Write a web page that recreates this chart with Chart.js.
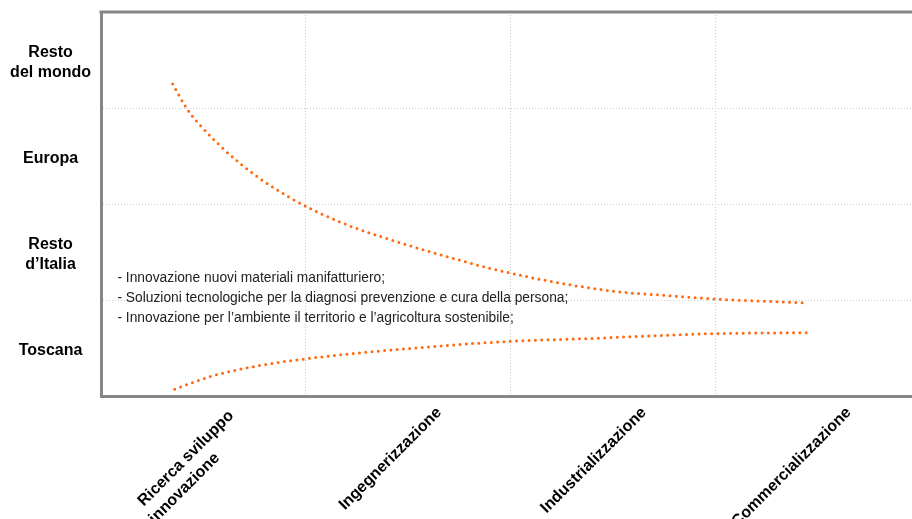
<!DOCTYPE html>
<html>
<head>
<meta charset="utf-8">
<script src="https://cdn.jsdelivr.net/npm/chart.js@4.4.1/dist/chart.umd.min.js"></script>
<style>
  html, body { margin: 0; padding: 0; background: #fff; }
</style>
</head>
<body>
<canvas id="chart" width="912" height="519"></canvas>
<script>
// x: phases of the value chain, y: market reached (bottom to top)
// trailing spaces keep the two lines of the first label left-aligned like the original
const phases = [["Ricerca sviluppo ", "innovazione          "], "Ingegnerizzazione", "Industrializzazione", "Commercializzazione"];
const regions = ["Toscana", ["Resto", "d\u2019Italia"], "Europa", ["Resto", "del mondo"]];

// upper curve (in band units)
const upperX = [0.35, 0.42, 0.48, 0.68, 0.92, 1.17, 1.41, 1.66, 1.90, 2.23, 2.55, 2.75, 3.00, 3.45];
const upperY = [3.25, 2.99, 2.83, 2.42, 2.07, 1.81, 1.63, 1.47, 1.33, 1.18, 1.08, 1.05, 1.01, 0.97];

// lower curve
const lowerX = [0.36, 0.53, 0.78, 1.01, 1.27, 1.59, 2.00, 2.40, 2.72, 3.00, 3.45];
const lowerY = [0.07, 0.20, 0.32, 0.39, 0.45, 0.51, 0.57, 0.60, 0.63, 0.65, 0.66];

const notes = [
    "- Innovazione nuovi materiali manifatturiero;",
    "- Soluzioni tecnologiche per la diagnosi prevenzione e cura della persona;",
    "- Innovazione per l\u2019ambiente il territorio e l\u2019agricoltura sostenibile;"
];

const fontFamily = "'Liberation Sans', Arial, sans-serif";
const orange = '#ff6a10';
const frameColour = '#868686';
const gridColour = '#cccccc';

function toPoints(xs, ys) {
    return xs.map((x, i) => ({x: x, y: ys[i]}));
}

function curve(xs, ys) {
    return {
        data: toPoints(xs, ys),
        showLine: true,
        borderColor: orange,
        backgroundColor: orange,
        borderWidth: 3,
        borderDash: [0, 6.3],
        borderCapStyle: 'round',
        cubicInterpolationMode: 'monotone',
        pointRadius: 0,
    };
}

// top edge of the frame
const frameTop = {
    id: 'frameTop',
    afterDraw: (chart) => {
        const {ctx, chartArea} = chart;
        ctx.save();
        ctx.strokeStyle = frameColour;
        ctx.lineWidth = 3;
        ctx.beginPath();
        ctx.moveTo(chartArea.left - 1.5, chartArea.top);
        ctx.lineTo(chartArea.right, chartArea.top);
        ctx.stroke();
        ctx.restore();
    }
};

// bullet notes inside the plot
const notesPlugin = {
    id: 'notes',
    beforeDatasetsDraw: (chart) => {
        const {ctx, scales} = chart;
        const x = scales.x.getPixelForValue(0.08);
        const y0 = scales.y.getPixelForValue(1.23);
        ctx.save();
        ctx.font = `13.8px ${fontFamily}`;
        ctx.fillStyle = '#222';
        ctx.textBaseline = 'middle';
        ctx.textAlign = 'left';
        notes.forEach((t, i) => ctx.fillText(t, x, y0 + i * 20));
        ctx.restore();
    }
};

const tickFont = {family: fontFamily, size: 16, weight: 'bold', lineHeight: 1.25};

new Chart(document.getElementById('chart'), {
    type: 'scatter',
    data: {datasets: [curve(upperX, upperY), curve(lowerX, lowerY)]},
    options: {
        responsive: false,
        animation: false,
        devicePixelRatio: 1,
        layout: {padding: {top: 12, left: 0, right: 0, bottom: 0}},
        plugins: {legend: {display: false}, tooltip: {enabled: false}},
        scales: {
            x: {
                type: 'linear',
                min: 0,
                max: 3.96,
                afterBuildTicks: (s) => { s.ticks = phases.map((p, i) => ({value: i + 0.5})); },
                afterFit: (s) => { s.height = 123; s.paddingLeft = 0; s.paddingRight = 0; },
                grid: {offset: true, color: gridColour, lineWidth: 1, drawTicks: false},
                border: {color: frameColour, width: 3, dash: [1, 2]},
                ticks: {
                    autoSkip: false,
                    minRotation: 45,
                    maxRotation: 45,
                    padding: 7,
                    labelOffset: 31,
                    color: '#000',
                    font: tickFont,
                    callback: (v, i) => phases[i],
                }
            },
            y: {
                type: 'linear',
                min: 0,
                max: 4,
                afterBuildTicks: (s) => { s.ticks = regions.map((r, i) => ({value: i + 0.5})); },
                afterFit: (s) => { s.width = 101; s.paddingTop = 0; s.paddingBottom = 0; },
                grid: {offset: true, color: gridColour, lineWidth: 1, drawTicks: false},
                border: {color: frameColour, width: 3, dash: [1, 2]},
                ticks: {
                    crossAlign: 'center',
                    padding: 10,
                    labelOffset: 3,
                    color: '#000',
                    font: tickFont,
                    callback: (v, i) => regions[i],
                }
            }
        }
    },
    plugins: [notesPlugin, frameTop],
});
</script>
</body>
</html>
